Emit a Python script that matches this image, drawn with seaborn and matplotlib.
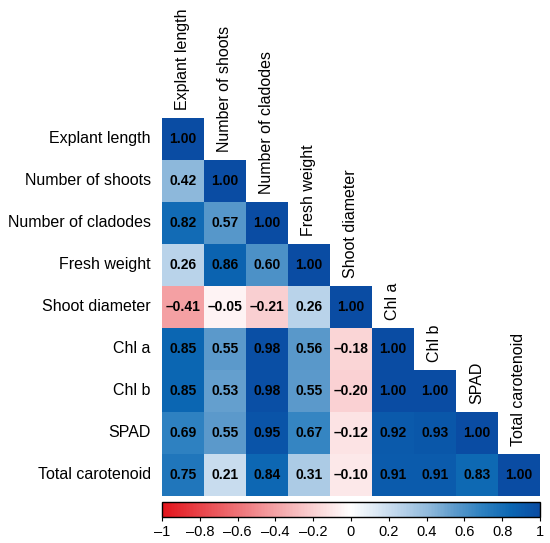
import numpy as np
import pandas as pd
import matplotlib
matplotlib.use("Agg")
import matplotlib.pyplot as plt
from matplotlib.colors import LinearSegmentedColormap
import seaborn as sns

variables = ["Explant length", "Number of shoots", "Number of cladodes", "Fresh weight",
             "Shoot diameter", "Chl a", "Chl b", "SPAD", "Total carotenoid"]

# lower triangle of the correlation matrix, row by row
row_explant = [1.00]
row_shoots = [0.42, 1.00]
row_cladodes = [0.82, 0.57, 1.00]
row_fresh = [0.26, 0.86, 0.60, 1.00]
row_diameter = [-0.41, -0.05, -0.21, 0.26, 1.00]
row_chla = [0.85, 0.55, 0.98, 0.56, -0.18, 1.00]
row_chlb = [0.85, 0.53, 0.98, 0.55, -0.20, 1.00, 1.00]
row_spad = [0.69, 0.55, 0.95, 0.67, -0.12, 0.92, 0.93, 1.00]
row_carot = [0.75, 0.21, 0.84, 0.31, -0.10, 0.91, 0.91, 0.83, 1.00]
rows = [row_explant, row_shoots, row_cladodes, row_fresh, row_diameter,
        row_chla, row_chlb, row_spad, row_carot]

cbar_ticks = [-1, -0.8, -0.6, -0.4, -0.2, 0, 0.2, 0.4, 0.6, 0.8, 1]

n = len(variables)
mat = np.full((n, n), np.nan)
for i, r in enumerate(rows):
    for j, v in enumerate(r):
        mat[i, j] = v
        mat[j, i] = v
corr = pd.DataFrame(mat, index=variables, columns=variables)
mask = np.triu(np.ones((n, n), dtype=bool), k=1)

labels = np.array([[f"{v:.2f}".replace("-", "\u2013") for v in r] for r in mat])

nodes = [(0.0, "#E3141B"), (0.30, "#F4A3A6"), (0.5, "#FFFFFF"),
         (0.63, "#BAD3EA"), (0.71, "#8DB8DB"), (0.775, "#5C9ACB"),
         (0.845, "#2F82C1"), (0.925, "#0B66B2"), (1.0, "#0A4CA3")]
cmap = LinearSegmentedColormap.from_list("corr", nodes)

fig = plt.figure(figsize=(5.5, 5.43), dpi=100)
ax = fig.add_axes([0.2945, 0.0866, 0.6873, 0.6961])
cax = fig.add_axes([0.2945, 0.0479, 0.6873, 0.0276])

sns.heatmap(corr, mask=mask, cmap=cmap, vmin=-1, vmax=1, annot=labels, fmt="",
            annot_kws={"fontsize": 10, "fontweight": "bold", "color": "black",
                       "family": "Liberation Sans"},
            cbar_ax=cax, cbar_kws={"orientation": "horizontal", "ticks": cbar_ticks},
            linewidths=0, ax=ax)

ax.set_xticks([])
ax.set_xlabel("")
ax.set_ylabel("")
ax.tick_params(axis="y", length=0, pad=8)
ax.set_yticklabels(variables, rotation=0, fontsize=11.5, family="Liberation Sans")

for i, name in enumerate(variables):
    ax.text(i + 0.5, i - 0.19, name, rotation=90, ha="center", va="bottom",
            fontsize=11.5, family="Liberation Sans", clip_on=False)

cb = ax.collections[0].colorbar
cb.outline.set_edgecolor("black")
cb.outline.set_linewidth(1.0)
cb.set_ticklabels([f"{t:g}".replace("-", "\u2013") for t in cbar_ticks])
cax.tick_params(axis="x", length=3, width=0.8, pad=3, labelsize=10.5)
for t in cax.get_xticklabels():
    t.set_family("Liberation Sans")

fig.savefig("out.png", dpi=100)
